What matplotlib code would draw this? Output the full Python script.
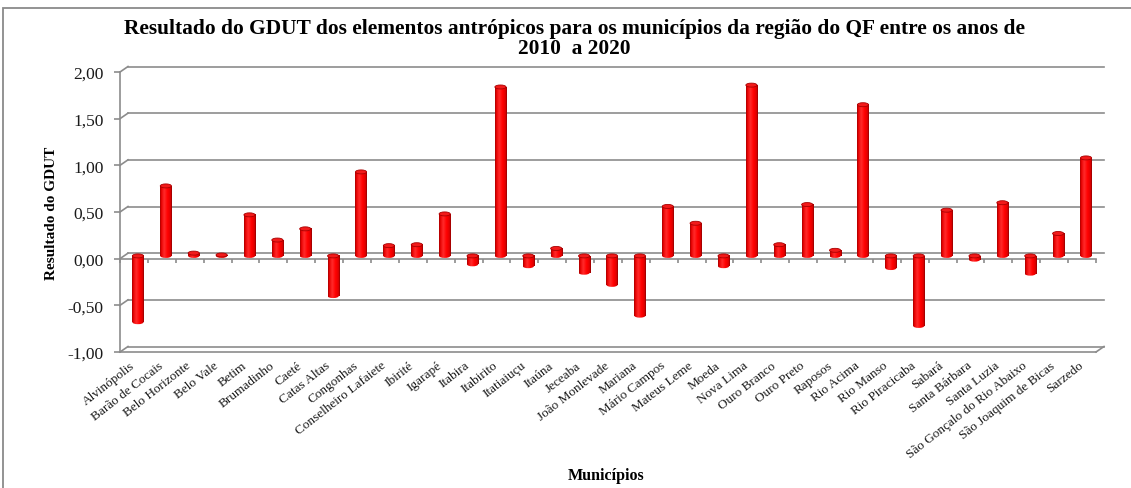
import numpy as np
import matplotlib
matplotlib.use("Agg")
import matplotlib.pyplot as plt
from matplotlib.transforms import ScaledTranslation, IdentityTransform
from matplotlib.patches import Rectangle, Ellipse
from matplotlib.colors import LinearSegmentedColormap
from matplotlib.lines import Line2D

municipios = [
    "Alvinópolis", "Barão de Cocais", "Belo Horizonte", "Belo Vale", "Betim",
    "Brumadinho", "Caeté", "Catas Altas", "Congonhas", "Conselheiro Lafaiete",
    "Ibirité", "Igarapé", "Itabira", "Itabirito", "Itatiaiuçu", "Itaúna",
    "Jeceaba", "João Monlevade", "Mariana", "Mário Campos", "Mateus Leme",
    "Moeda", "Nova Lima", "Ouro Branco", "Ouro Preto", "Raposos", "Rio Acima",
    "Rio Manso", "Rio Piracicaba", "Sabará", "Santa Bárbara", "Santa Luzia",
    "São Gonçalo do Rio Abaixo", "São Joaquim de Bicas", "Sarzedo",
]
gdut = [
    -0.71, 0.75, 0.03, 0.01, 0.44,
    0.17, 0.29, -0.43, 0.90, 0.11,
    0.12, 0.45, -0.09, 1.81, -0.11, 0.08,
    -0.18, -0.31, -0.64, 0.53, 0.35,
    -0.11, 1.83, 0.12, 0.55, 0.06, 1.62,
    -0.13, -0.75, 0.49, -0.04, 0.57,
    -0.19, 0.24, 1.05,
]
y_ticks = [-1.0, -0.5, 0.0, 0.5, 1.0, 1.5, 2.0]
y_tick_labels = ["-1,00", "-0,50", "0,00", "0,50", "1,00", "1,50", "2,00"]

title_lines = [
    "Resultado do GDUT dos elementos antrópicos para os municípios da região do QF entre os anos de",
    "2010  a 2020",
]
y_label = "Resultado do GDUT"
x_label = "Municípios"

SERIF = ["Liberation Serif", "DejaVu Serif"]
GRID = "#8c8c8c"
TEXT = "#1a1a1a"

W, H, DPI = 1131, 489, 100
fig = plt.figure(figsize=(W / DPI, H / DPI), dpi=DPI)
fig.patch.set_facecolor("white")

# outer chart border
fig.add_artist(Rectangle((3 / W, -0.05), 1.2, 1 - 8.5 / H + 0.05,
                         transform=fig.transFigure, facecolor="none",
                         edgecolor="#8a8a8a", linewidth=1.3))

n = len(municipios)
x = np.arange(n)
ax = fig.add_axes([120 / W, 1 - 353 / H, (1096 - 120) / W, (353 - 73) / H])
ax.patch.set_visible(False)

# pseudo-3D depth: back wall shifted right/up, bars halfway
DX, DY = 8, 5.5
back = ax.transData + ScaledTranslation(DX / DPI, DY / DPI, fig.dpi_scale_trans)
mid = ax.transData + ScaledTranslation(DX / 2 / DPI, DY / 2 / DPI, fig.dpi_scale_trans)

x0, x1 = -0.5, n - 0.5
ax.set_xlim(x0, x1)
ax.set_ylim(y_ticks[0], y_ticks[-1])

for s in ("top", "right"):
    ax.spines[s].set_visible(False)
ax.spines["left"].set_color(GRID)
ax.spines["left"].set_linewidth(1.2)
ax.spines["bottom"].set_position(("data", 0))
ax.spines["bottom"].set_color(GRID)
ax.spines["bottom"].set_linewidth(1.2)

ax.set_yticks(y_ticks, y_tick_labels)
ax.tick_params(axis="y", length=4, width=1.2, color=GRID, pad=8,
               labelsize=12.5, labelcolor=TEXT)
for t in ax.get_yticklabels():
    t.set_family(SERIF)
ax.set_xticks(np.arange(n + 1) - 0.5, [""] * (n + 1))
ax.tick_params(axis="x", length=3, width=1.2, color=GRID, direction="out")

# back-wall gridlines
for yv in y_ticks:
    ax.plot([x0, x1], [yv, yv], transform=back, color=GRID, lw=1.2,
            clip_on=False, zorder=1)
    p0 = ax.transData.transform((x0, yv))
    p1 = back.transform((x0, yv))
    ax.add_line(Line2D([p0[0], p1[0]], [p0[1], p1[1]], transform=IdentityTransform(),
                       color=GRID, lw=1.2, clip_on=False))

# floor front edge and right side
ax.plot([x0, x1], [y_ticks[0]] * 2, color=GRID, lw=1.2, clip_on=False, zorder=1)
q0 = ax.transData.transform((x1, y_ticks[0]))
q1 = back.transform((x1, y_ticks[0]))
ax.add_line(Line2D([q0[0], q1[0]], [q0[1], q1[1]], transform=IdentityTransform(),
                   color=GRID, lw=1.2, clip_on=False))

# cylinder bars
cyl = LinearSegmentedColormap.from_list(
    "cyl", [(0.0, "#a00000"), (0.10, "#e60000"), (0.35, "#ff2a2a"),
            (0.65, "#ff0000"), (0.90, "#dc0000"), (1.0, "#8a0000")])
grad = np.linspace(0, 1, 64)[None, :]
bw = 0.40
px_per_unit = (353 - 73) / (y_ticks[-1] - y_ticks[0])
eh = 4.0 / px_per_unit

for xi, v in zip(x, gdut):
    lo, hi = min(0.0, v), max(0.0, v)
    im = ax.imshow(grad, extent=(xi - bw / 2, xi + bw / 2, lo, hi), cmap=cyl,
                   aspect="auto", interpolation="bilinear", zorder=3)
    im.set_transform(mid)
    bottom = Ellipse((xi, lo), bw, eh, transform=mid, facecolor="none",
                     edgecolor="none")
    ax.add_patch(bottom)
    imb = ax.imshow(grad, extent=(xi - bw / 2, xi + bw / 2, lo - eh, lo), cmap=cyl,
                    aspect="auto", interpolation="bilinear", zorder=3)
    imb.set_transform(mid)
    imb.set_clip_path(bottom)
    ax.add_patch(Ellipse((xi, hi), bw, eh, transform=mid, facecolor="#f21a1a",
                         edgecolor="#a80000", linewidth=0.6, zorder=4))

ax.set_xlim(x0, x1)
ax.set_ylim(y_ticks[0], y_ticks[-1])
ax.set_aspect("auto")

# category labels
for xi, name in zip(x, municipios):
    ax.annotate(name, xy=(xi, y_ticks[0]), xycoords="data",
                xytext=(-4, -7), textcoords="offset pixels",
                rotation=38, rotation_mode="anchor", ha="right", va="top",
                fontsize=9.5, family=SERIF, color=TEXT, annotation_clip=False)

# titles
fig.text(574 / W, 1 - 29.5 / H, title_lines[0], ha="center", va="center",
         fontsize=15.4, fontweight="bold", family=SERIF, color="black")
fig.text(574 / W, 1 - 48.5 / H, title_lines[1], ha="center", va="center",
         fontsize=15.4, fontweight="bold", family=SERIF, color="black")
fig.text(52 / W, 1 - 213 / H, y_label, rotation=90, ha="center", va="center",
         fontsize=11, fontweight="bold", family=SERIF, color="black")
fig.text(606 / W, 1 - 476 / H, x_label, ha="center", va="center",
         fontsize=11.5, fontweight="bold", family=SERIF, color="black")

fig.savefig("out.png", dpi=DPI)
